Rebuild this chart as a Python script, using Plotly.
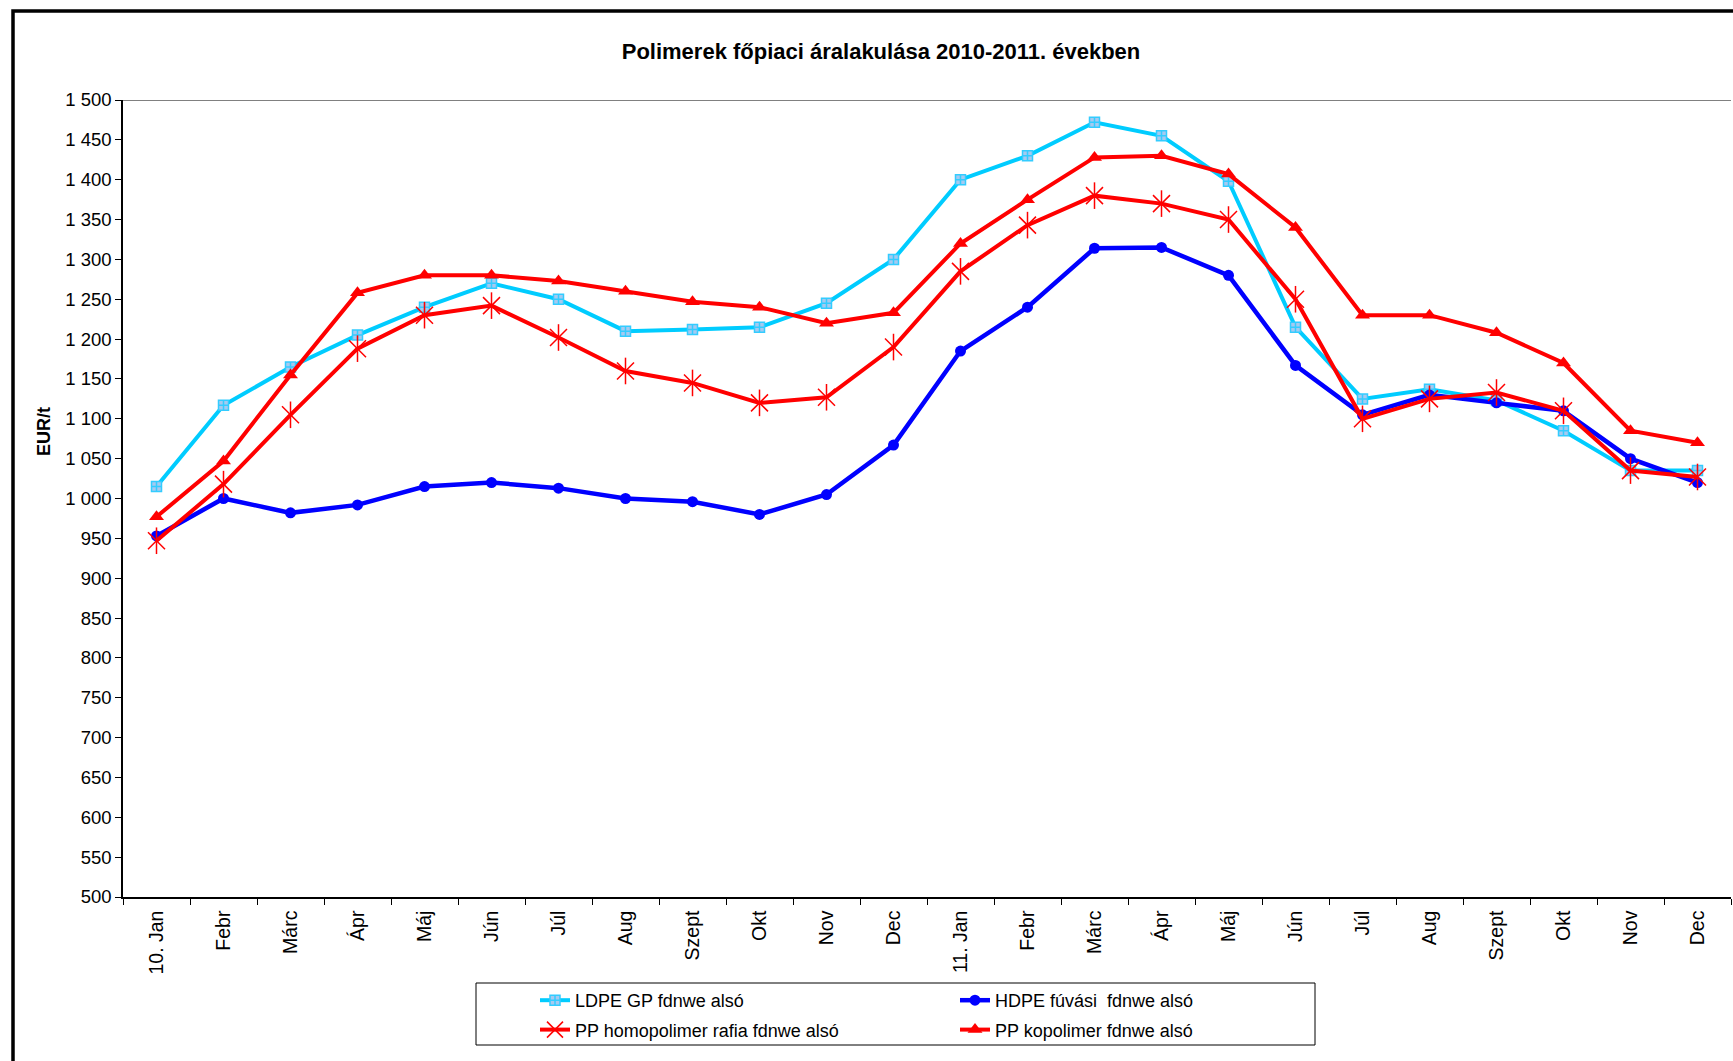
import plotly.graph_objects as go

months = ["10. Jan", "Febr", "Márc", "Ápr", "Máj", "Jún", "Júl", "Aug", "Szept", "Okt", "Nov", "Dec",
          "11. Jan", "Febr", "Márc", "Ápr", "Máj", "Jún", "Júl", "Aug", "Szept", "Okt", "Nov", "Dec"]

ldpe = [1015, 1117, 1165, 1205, 1240, 1270, 1250, 1210, 1212, 1215, 1245, 1300,
        1400, 1430, 1472, 1455, 1398, 1215, 1125, 1137, 1123, 1085, 1035, 1035]
hdpe = [953, 1000, 982, 992, 1015, 1020, 1013, 1000, 996, 980, 1005, 1067,
        1185, 1240, 1314, 1315, 1280, 1167, 1105, 1130, 1120, 1110, 1050, 1020]
pp_homo = [947, 1018, 1105, 1188, 1230, 1242, 1202, 1160, 1145, 1120, 1127, 1190,
           1285, 1343, 1380, 1370, 1350, 1250, 1100, 1125, 1133, 1110, 1035, 1027]
pp_kopo = [977, 1047, 1155, 1258, 1280, 1280, 1273, 1260, 1247, 1240, 1220, 1233,
           1320, 1375, 1428, 1430, 1407, 1340, 1230, 1230, 1208, 1170, 1085, 1070]

names = ["LDPE GP fdnwe alsó", "HDPE fúvási  fdnwe alsó",
         "PP homopolimer rafia fdnwe alsó", "PP kopolimer fdnwe alsó"]

x = list(range(len(months)))

W, H = 1733, 1061
L, R, T, B = 123, 2, 100, 164
PW, PH = W - L - R, H - T - B

def px_x(p):
    return (p - L) / PW

def px_y(p):
    return (H - B - p) / PH

FONT = "Liberation Sans, Arial, sans-serif"

fig = go.Figure()

fig.add_trace(go.Scatter(
    x=x, y=ldpe, name=names[0], mode="lines+markers", legend="legend", legendgroup="a",
    line=dict(color="#00CCFF", width=4),
    marker=dict(symbol="square-cross", size=10, color="#A6CAF0",
                line=dict(color="#33CCFF", width=1.5))))
fig.add_trace(go.Scatter(
    x=x, y=hdpe, name=names[1], mode="lines+markers", legend="legend2", legendgroup="b",
    line=dict(color="#0000FF", width=4.5),
    marker=dict(symbol="circle", size=11, color="#0000FF")))
fig.add_trace(go.Scatter(
    x=x, y=pp_homo, name=names[2], mode="lines+markers", legend="legend", legendgroup="c",
    line=dict(color="#FF0000", width=4),
    marker=dict(symbol="x-thin", size=17, color="#FF0000",
                line=dict(color="#FF0000", width=1.5))))
fig.add_trace(go.Scatter(
    x=x, y=pp_homo, name=names[2], mode="markers", legend="legend", legendgroup="c",
    showlegend=False, hoverinfo="skip",
    marker=dict(symbol="line-ns", size=19, color="#FF0000",
                line=dict(color="#FF0000", width=1.5))))
fig.add_trace(go.Scatter(
    x=x, y=pp_kopo, name=names[3], mode="lines+markers", legend="legend2", legendgroup="d",
    line=dict(color="#FF0000", width=4),
    marker=dict(symbol="triangle-up", size=13, color="#FF0000")))

legend_common = dict(font=dict(family=FONT, size=18, color="#000"), bgcolor="rgba(0,0,0,0)",
                     borderwidth=0, orientation="v", tracegroupgap=3,
                     yanchor="top", xanchor="left", itemclick=False)

fig.update_layout(
    width=W, height=H,
    margin=dict(l=L, r=R, t=T, b=B, pad=0),
    paper_bgcolor="white", plot_bgcolor="white",
    separators=", ",
    font=dict(family=FONT, size=18, color="#000"),
    title=dict(text="<b>Polimerek főpiaci áralakulása 2010-2011. években</b>",
               font=dict(family=FONT, size=22, color="#000"),
               x=881 / W, xanchor="center", xref="container",
               y=1 - 51 / H, yanchor="middle", yref="container"),
    xaxis=dict(range=[-0.5, len(months) - 0.5], tickmode="array", tickvals=x, ticktext=months,
               tickangle=-90, ticks="", showgrid=False, zeroline=False,
               showline=True, linecolor="#000", linewidth=1.5,
               ticklabelstandoff=4,
               tickfont=dict(family=FONT, size=19.5, color="#000"),
               minor=dict(tick0=-0.5, dtick=1, ticks="outside", ticklen=6,
                          tickcolor="#000", tickwidth=1, showgrid=False)),
    yaxis=dict(range=[500, 1500], dtick=50, tickformat=",d", ticks="outside", ticklen=6,
               tickcolor="#000", showgrid=False, zeroline=False,
               showline=True, linecolor="#000", linewidth=1.5,
               tickfont=dict(family=FONT, size=18.5, color="#000")),
    legend=dict(x=px_x(535), y=px_y(982), **legend_common),
    legend2=dict(x=px_x(955), y=px_y(982), **legend_common),
    showlegend=True,
    annotations=[
        dict(text="<b>EUR/t</b>", xref="paper", yref="paper", x=px_x(44), y=px_y(432),
             xanchor="center", yanchor="middle", textangle=-90, showarrow=False,
             font=dict(family=FONT, size=18, color="#000")),
    ],
    shapes=[
        dict(type="line", xref="paper", yref="y", x0=0, x1=1, y0=1500, y1=1500,
             line=dict(color="#808080", width=2), layer="below"),
        dict(type="rect", xref="paper", yref="paper", x0=px_x(13), x1=1.05,
             y0=-0.4, y1=px_y(11), line=dict(color="#000", width=3.5)),
        dict(type="rect", xref="paper", yref="paper", x0=px_x(476), x1=px_x(1315),
             y0=px_y(1045), y1=px_y(983), line=dict(color="#000", width=1)),
    ],
)

fig.write_html("out.html", config={"displayModeBar": False},
               post_script="document.body.style.margin='0';document.body.style.overflow='hidden';")
